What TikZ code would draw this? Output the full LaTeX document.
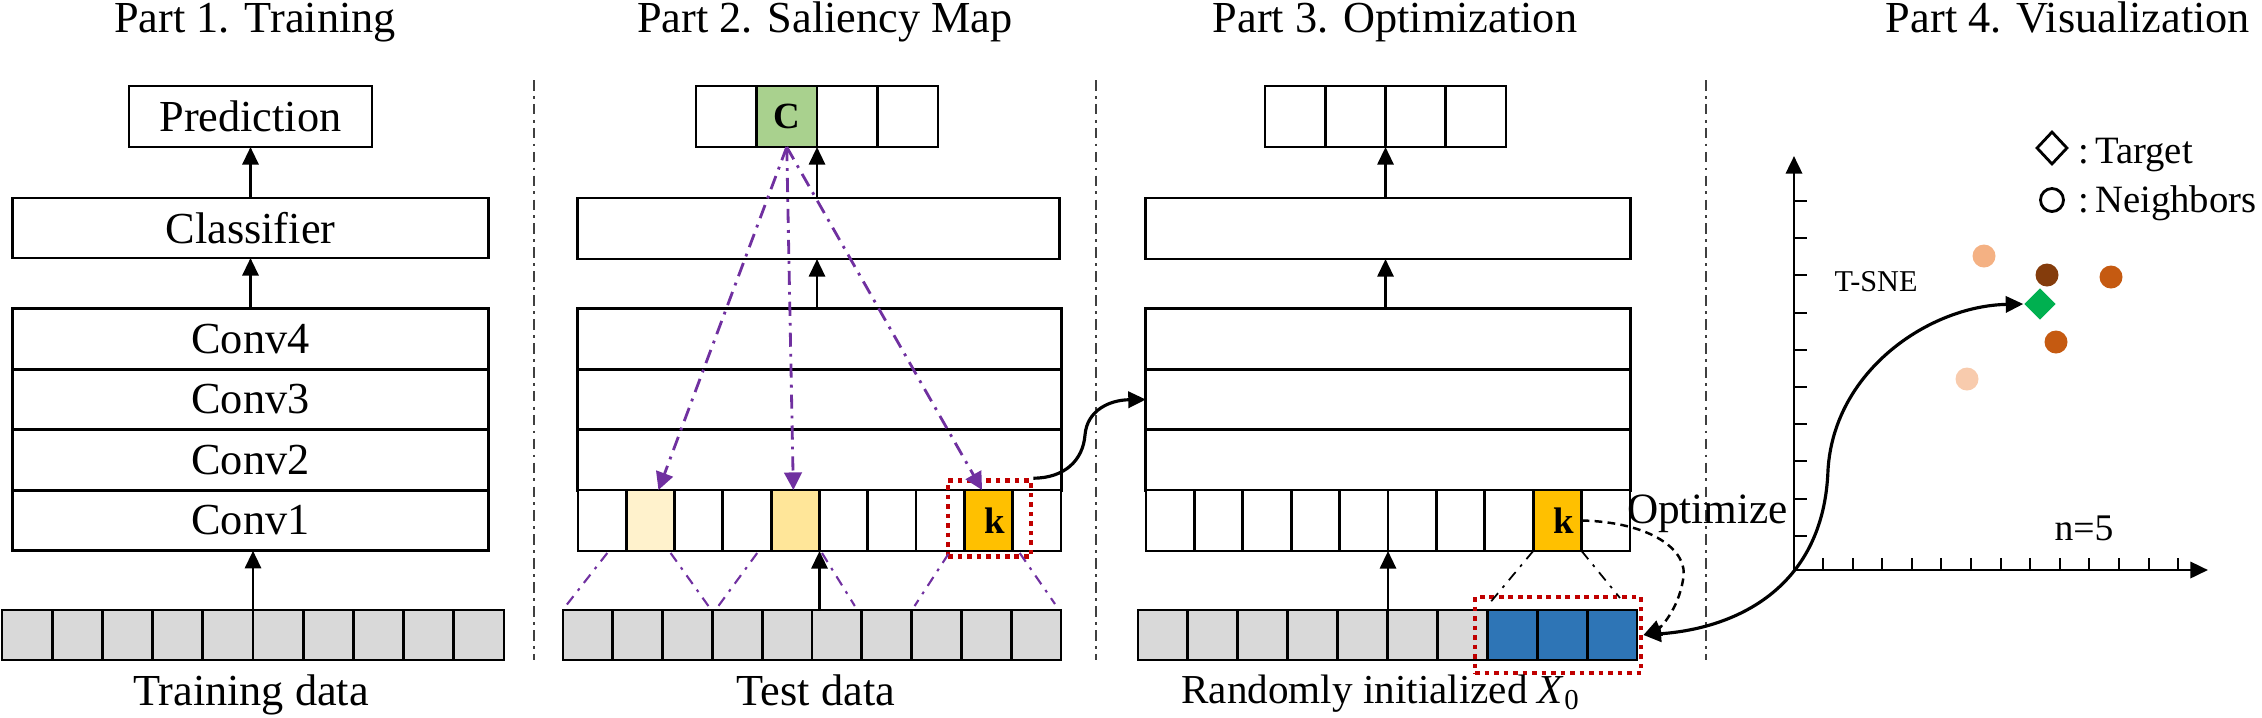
\documentclass[tikz,border=0pt]{standalone}
\usepackage{fontspec}
\setmainfont{Liberation Serif}
\usetikzlibrary{arrows.meta,shapes.geometric,calc}
\definecolor{grayc}{HTML}{D9D9D9}
\definecolor{greenc}{HTML}{A9D18E}
\definecolor{ylo}{HTML}{FFF2CC}
\definecolor{ylt}{HTML}{FFE699}
\definecolor{kc}{HTML}{FFC000}
\definecolor{bluec}{HTML}{2E75B6}
\definecolor{redd}{HTML}{C00000}
\definecolor{purp}{HTML}{7030A0}
\definecolor{dotA}{HTML}{F4B183}
\definecolor{dotB}{HTML}{843C0C}
\definecolor{dotC}{HTML}{C55A11}
\definecolor{dotD}{HTML}{F8CBAD}
\definecolor{tgtc}{HTML}{00B050}
\newcommand\mainfs{\fontsize{12.6}{15}\selectfont}
\newcommand\cellfs{\bfseries\fontsize{10.5}{12}\selectfont}
\newcommand\legfs{\fontsize{11}{13}\selectfont}
\begin{document}
\begin{tikzpicture}[x=0.01cm,y=-0.01cm,
  lay/.style={draw, line width=0.8pt, inner sep=0pt, outer sep=0pt, font=\mainfs},
  cel/.style={draw, line width=0.8pt, inner sep=0pt, outer sep=0pt},
  arr/.style={line width=0.7pt, -{Triangle[length=5pt,width=4.6pt]}},
  parr/.style={draw=purp, line width=0.8pt, dash pattern=on 4pt off 2pt on 0.8pt off 2pt, -{Triangle[length=5pt,width=5pt,fill=purp]}},
  pline/.style={draw=purp, line width=0.6pt, dash pattern=on 3pt off 2pt on 0.8pt off 2pt},
  kline/.style={line width=0.5pt, dash pattern=on 3pt off 2pt on 0.8pt off 2pt},
  sepl/.style={line width=0.5pt, draw=black!75, dash pattern=on 3pt off 1.5pt on 0.8pt off 1.5pt},
  rbox/.style={draw=redd, line width=1.3pt, dash pattern=on 1.3pt off 1.4pt, inner sep=0pt},
  nbr/.style={circle, inner sep=0pt, minimum size=0.23cm},
  ttl/.style={anchor=base, font=\mainfs},
]
\useasboundingbox (0,0) rectangle (2262,717);

% titles
\node[ttl] (t1) at (255,32) {Part 1. Training};
\node[ttl] (t2) at (825,32) {Part 2. Saliency Map};
\node[ttl] (t3) at (1395,32) {Part 3. Optimization};
\node[ttl] (t4) at (2068,32) {Part 4. Visualization};

% separators
\draw[sepl] (534,80) -- (534,660);
\draw[sepl] (1096,80) -- (1096,660);
\draw[sepl] (1706,80) -- (1706,660);

% ---------------- Part 1
\node[lay, minimum width=2.43cm, minimum height=0.61cm] (pred) at (250.5,116.5) {Prediction};
\node[lay, minimum width=4.75cm, minimum height=0.6cm] (cls1) at (250.5,228) {Classifier};
\node[lay, minimum width=4.75cm, minimum height=0.605cm] (c4) at (250.5,339) {Conv4};
\node[lay, minimum width=4.75cm, minimum height=0.605cm] (c3) at (250.5,399.5) {Conv3};
\node[lay, minimum width=4.75cm, minimum height=0.605cm] (c2) at (250.5,460) {Conv2};
\node[lay, minimum width=4.75cm, minimum height=0.605cm] (c1) at (250.5,520.5) {Conv1};
\foreach \i in {0,...,9}
  \node[cel, fill=grayc, minimum width=0.502cm, minimum height=0.5cm] (d1-\i) at ({2+50.2*(\i+0.5)},635) {};
\node[ttl] (lb1) at (251,705) {Training data};
\draw[arr] (d1-4.north east) -- (d1-4.north east |- c1.south);
\draw[arr] (c4.north) -- (cls1.south);
\draw[arr] (cls1.north) -- (pred.south);

% ---------------- Part 2
\foreach \i/\f in {0/white,1/greenc,2/white,3/white}
  \node[cel, fill=\f, minimum width=0.605cm, minimum height=0.61cm] (o2-\i) at ({696+60.5*(\i+0.5)},116.5) {};
\node[font=\cellfs] (cC) at (o2-1) {C};
\node[lay, minimum width=4.81cm, minimum height=0.61cm] (cls2) at (818.5,228.5) {};
\node[lay, minimum width=4.83cm, minimum height=0.605cm] (l2a) at (819.5,339) {};
\node[lay, minimum width=4.83cm, minimum height=0.605cm] (l2b) at (819.5,399.5) {};
\node[lay, minimum width=4.83cm, minimum height=0.605cm] (l2c) at (819.5,460) {};
\foreach \i/\f in {0/white,1/ylo,2/white,3/white,4/ylt,5/white,6/white,7/white,8/kc,9/white}
  \node[cel, fill=\f, minimum width=0.483cm, minimum height=0.61cm] (f2-\i) at ({578+48.3*(\i+0.5)},520.5) {};
\node[font=\cellfs] (k2) at ($(f2-8)+(6,0)$) {k};
\foreach \i in {0,...,9}
  \node[cel, fill=grayc, minimum width=0.498cm, minimum height=0.5cm] (d2-\i) at ({563+49.8*(\i+0.5)},635) {};
\node[rbox, minimum width=0.83cm, minimum height=0.76cm] (rb2) at ($(f2-8)+(1,-2)$) {};
\node[ttl] (lb2) at (816,705) {Test data};

\draw[arr] (f2-4.south east |- d2-5.north) -- (f2-4.south east);
\draw[arr] (l2a.north -| o2-1.south east) -- (cls2.south -| o2-1.south east);
\draw[arr] (cls2.north -| o2-1.south east) -- (o2-1.south east);

\draw[parr] (o2-1.south) -- ([xshift=0.08cm]f2-1.north);
\draw[parr] (o2-1.south) -- ([xshift=-0.02cm]f2-4.north);
\draw[parr] (o2-1.south) -- ([xshift=-0.065cm]f2-8.north);

\draw[pline] ($(f2-1.south west)+(-19,2)$) -- ($(d2-0.north west)+(2,-3)$);
\draw[pline] ($(f2-1.south east)+(-4,2)$) -- ($(d2-2.north east)+(-4,-4)$);
\draw[pline] ($(f2-4.south west)+(-14,2)$) -- ($(d2-3.north west)+(6,-4)$);
\draw[pline] ($(f2-4.south east)+(2.5,2)$) -- ($(d2-5.north east)+(-7,-4)$);
\draw[pline] ($(f2-8.south west)+(-16,3)$) -- ($(d2-7.north west)+(3,-4)$);
\draw[pline] ($(f2-8.south east)+(7,2)$) -- ($(d2-9.north east)+(-6,-6)$);

% ---------------- Part 3
\foreach \i in {0,...,3}
  \node[cel, minimum width=0.6025cm, minimum height=0.61cm] (o3-\i) at ({1265+60.25*(\i+0.5)},116.5) {};
\node[lay, minimum width=4.84cm, minimum height=0.61cm] (cls3) at (1388,228.5) {};
\node[lay, minimum width=4.84cm, minimum height=0.605cm] (l3a) at (1388,339) {};
\node[lay, minimum width=4.84cm, minimum height=0.605cm] (l3b) at (1388,399.5) {};
\node[lay, minimum width=4.84cm, minimum height=0.605cm] (l3c) at (1388,460) {};
\foreach \i/\f in {0/white,1/white,2/white,3/white,4/white,5/white,6/white,7/white,8/kc,9/white}
  \node[cel, fill=\f, minimum width=0.484cm, minimum height=0.61cm] (f3-\i) at ({1146+48.4*(\i+0.5)},520.5) {};
\node[font=\cellfs] (k3) at ($(f3-8)+(6,0)$) {k};
\foreach \i/\f in {0/grayc,1/grayc,2/grayc,3/grayc,4/grayc,5/grayc,6/grayc,7/bluec,8/bluec,9/bluec}
  \node[cel, fill=\f, minimum width=0.499cm, minimum height=0.5cm] (d3-\i) at ({1138+49.9*(\i+0.5)},635) {};
\node[rbox, minimum width=1.66cm, minimum height=0.76cm] (rb3) at ($(d3-8)+(-4,0)$) {};
\node[anchor=base, font=\fontsize{11.7}{14}\selectfont] (lb3) at (1381,703) {Randomly initialized \textit{X}\textsubscript{0}};

\draw[arr] (f3-4.south east |- d3-5.north) -- (f3-4.south east);
\draw[arr] (l3a.north -| o3-1.south east) -- (cls3.south -| o3-1.south east);
\draw[arr] (cls3.north -| o3-1.south east) -- (o3-1.south east);

\draw[kline] (f3-8.south west) -- ($(d3-7.north west)+(0,-4)$);
\draw[kline] (f3-8.south east) -- ($(d3-9.north east)+(-17,-12)$);

% curve part2 -> part3
\draw[arr, line width=0.9pt] (rb2.north east) .. controls (1065,478) and (1083,460) .. (1085,435) .. controls (1087,410) and (1110,400) .. (l3b.west);

% optimize
\node[anchor=base, font=\fontsize{12.3}{14}\selectfont] (opt) at (1707.5,523) {Optimize};
\draw[line width=0.7pt, dash pattern=on 2.2pt off 1.5pt, -{Triangle[length=5pt,width=4.6pt]}] (f3-8.east) .. controls (1650,522) and (1690,550) .. (1683,580) .. controls (1678,610) and (1660,628) .. (rb3.east);

% ---------------- Part 4
\coordinate (org) at (1794,570);
\coordinate (yend) at (1794,156);
\coordinate (xend) at (2208,570);
\draw[arr, line width=0.8pt] (org) -- (yend);
\draw[arr, line width=0.8pt] (org) -- (xend);
\foreach \k in {0,...,9}
  \draw[line width=0.6pt] (1794,{201+37.2*\k}) -- (1807,{201+37.2*\k});
\foreach \k in {0,...,12}
  \draw[line width=0.6pt] ({1823+29.6*\k},570) -- ({1823+29.6*\k},558);

\node[font=\fontsize{8.6}{10}\selectfont] (tsne) at (1876,282) {T-SNE};
\node[font=\fontsize{10.7}{12}\selectfont] (nfive) at (2084,528) {n=5};

\node[nbr, fill=dotA] (n1) at (1984,256) {};
\node[nbr, fill=dotB] (n2) at (2047,275) {};
\node[nbr, fill=dotC] (n3) at (2111,277) {};
\node[nbr, fill=dotC] (n4) at (2056,342) {};
\node[nbr, fill=dotD] (n5) at (1967,379) {};
\node[diamond, fill=tgtc, inner sep=0pt, minimum width=0.32cm, minimum height=0.32cm] (tgt) at (2040,304) {};

\node[diamond, draw, line width=0.8pt, inner sep=0pt, minimum width=0.31cm, minimum height=0.33cm] (lgD) at (2052,148) {};
\node[anchor=base west, font=\legfs, inner sep=0pt] (lgT) at (2078,163) {:\hspace{0.15em}Target};
\node[circle, draw, line width=0.8pt, inner sep=0pt, minimum size=0.23cm] (lgC) at (2052,200) {};
\node[anchor=base west, font=\legfs, inner sep=0pt] (lgN) at (2078,212) {:\hspace{0.15em}Neighbors};

\draw[line width=0.9pt, {Triangle[length=5pt,width=4.6pt]}-{Triangle[length=5pt,width=4.6pt]}] (rb3.east) .. controls (1740,628) and (1824,585) .. (1828,470) .. controls (1834,370) and (1930,306) .. (tgt.west);
\end{tikzpicture}
\end{document}
